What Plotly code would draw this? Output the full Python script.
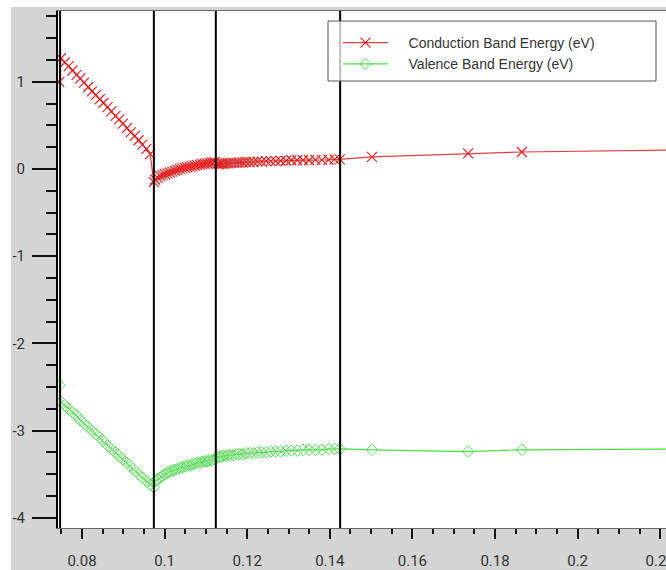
import plotly.graph_objects as go

# ---------------- data ----------------
cb_x = [0.0745, 0.0749, 0.0758, 0.0768, 0.0777, 0.0787, 0.0796, 0.0805, 0.0815, 0.0824,
        0.0834, 0.0843, 0.0852, 0.0862, 0.0871, 0.0881, 0.0890, 0.0899, 0.0909, 0.0918,
        0.0928, 0.0937, 0.0946, 0.0956, 0.0965,
        0.0974,
        0.0977, 0.0983, 0.0989, 0.0995, 0.1001, 0.1007, 0.1013, 0.1019, 0.1025, 0.1031,
        0.1037, 0.1043, 0.1049, 0.1055, 0.1061, 0.1067, 0.1073, 0.1079, 0.1085, 0.1091,
        0.1097, 0.1103, 0.1109, 0.1115, 0.1121,
        0.1127, 0.1132, 0.1137, 0.1142, 0.1148, 0.1154, 0.1160, 0.1167, 0.1174, 0.1181,
        0.1189, 0.1197, 0.1206, 0.1215, 0.1225, 0.1235, 0.1246, 0.1257, 0.1269, 0.1281,
        0.1294, 0.1307, 0.1321, 0.1335, 0.1350, 0.1365, 0.1381, 0.1397, 0.1412, 0.1424,
        0.1502, 0.1735, 0.1865, 0.2350]

cb_y = [1.00, 1.27, 1.22, 1.18, 1.13, 1.08, 1.04, 0.99, 0.94, 0.89,
        0.85, 0.80, 0.76, 0.71, 0.66, 0.61, 0.57, 0.52, 0.47, 0.42,
        0.38, 0.33, 0.28, 0.23, 0.17,
        -0.15,
        -0.12, -0.10, -0.08, -0.07, -0.06, -0.05, -0.04, -0.03, -0.02, -0.01,
        0.00, 0.01, 0.015, 0.02, 0.025, 0.03, 0.04, 0.045, 0.05, 0.055,
        0.06, 0.065, 0.07, 0.075, 0.08,
        0.06, 0.055, 0.06, 0.06, 0.065, 0.065, 0.07, 0.07, 0.07, 0.075,
        0.075, 0.08, 0.08, 0.08, 0.085, 0.085, 0.09, 0.09, 0.09, 0.095,
        0.095, 0.10, 0.10, 0.10, 0.10, 0.105, 0.105, 0.105, 0.11, 0.11,
        0.14, 0.18, 0.195, 0.225]

vb_x = cb_x

vb_y = [-2.48, -2.67, -2.71, -2.75, -2.79, -2.83, -2.88, -2.92, -2.96, -3.00,
        -3.04, -3.08, -3.12, -3.17, -3.21, -3.25, -3.29, -3.33, -3.37, -3.41,
        -3.46, -3.50, -3.54, -3.58, -3.62,
        -3.65,
        -3.58, -3.56, -3.54, -3.52, -3.50, -3.48, -3.47, -3.46, -3.45, -3.44,
        -3.43, -3.42, -3.41, -3.40, -3.40, -3.39, -3.38, -3.37, -3.37, -3.36,
        -3.35, -3.35, -3.34, -3.34, -3.33,
        -3.31, -3.30, -3.30, -3.29, -3.29, -3.28, -3.28, -3.28, -3.27, -3.27,
        -3.27, -3.26, -3.26, -3.26, -3.25, -3.25, -3.25, -3.24, -3.24, -3.24,
        -3.23, -3.23, -3.23, -3.22, -3.22, -3.22, -3.22, -3.21, -3.21, -3.21,
        -3.22, -3.24, -3.22, -3.21]

series_names = ["Conduction Band Energy (eV)", "Valence Band Energy (eV)"]

boundary_x = [0.0747, 0.0974, 0.1124, 0.1425]

x_tickvals = [0.08, 0.10, 0.12, 0.14, 0.16, 0.18, 0.20, 0.22]
x_ticktext = ["0.08", "0.1", "0.12", "0.14", "0.16", "0.18", "0.2", "0.22"]
y_tickvals = [-4, -3, -2, -1, 0, 1]
y_ticktext = ["-4", "-3", "-2", "-1", "0", "1"]

# ---------------- figure ----------------
W, H = 666, 570
ML, MR, MT, MB = 58, 0, 11, 42
PW, PH = W - ML - MR, H - MT - MB


def px_x(p):
    return (p - ML) / PW


def px_y(p):
    return (H - MB - p) / PH


fig = go.Figure()

pad = "\u00a0" * 4  # visual gap between legend sample and label

fig.add_trace(go.Scatter(
    x=cb_x, y=cb_y, name=pad + series_names[0], mode="lines+markers",
    line=dict(color="#e63c3c", width=1.2),
    marker=dict(symbol="x-thin-open", size=10, color="#e52222",
                line=dict(width=1.2, color="#e52222")),
))
fig.add_trace(go.Scatter(
    x=vb_x, y=vb_y, name=pad + series_names[1], mode="lines+markers",
    line=dict(color="#44e044", width=1.2),
    marker=dict(symbol="diamond-open", size=9, color="#55e055",
                line=dict(width=1)),
))

shapes = []
# white strips at the top/left of the grey frame (kept inside the figure)
shapes.append(dict(type="rect", xref="paper", yref="paper",
                   x0=px_x(0), x1=px_x(11), y0=px_y(H), y1=px_y(0),
                   fillcolor="white", line=dict(width=0), layer="below"))
shapes.append(dict(type="rect", xref="paper", yref="paper",
                   x0=px_x(0), x1=px_x(W), y0=px_y(7), y1=px_y(0),
                   fillcolor="white", line=dict(width=0), layer="below"))
for bx in boundary_x:
    shapes.append(dict(type="line", xref="x", yref="paper", x0=bx, x1=bx, y0=0, y1=1,
                       line=dict(color="black", width=2), layer="above"))
# legend box
shapes.append(dict(type="rect", xref="paper", yref="paper",
                   x0=px_x(328), x1=px_x(656), y0=px_y(81), y1=px_y(21),
                   fillcolor="rgba(255,255,255,0.75)",
                   line=dict(color="#555555", width=1), layer="above"))

tickfont = dict(family="Roboto, Arial, sans-serif", size=15, color="#333333")

fig.update_layout(
    template="none",
    width=W, height=H,
    margin=dict(l=ML, r=MR, t=MT, b=MB, autoexpand=False),
    paper_bgcolor="#d4d4d4",
    plot_bgcolor="white",
    shapes=shapes,
    showlegend=True,
    legend=dict(x=px_x(338), y=px_y(27), xanchor="left", yanchor="top",
                bgcolor="rgba(0,0,0,0)", borderwidth=0, itemwidth=45,
                font=dict(family="Arial, Liberation Sans, sans-serif", size=14, color="#333333"),
                tracegroupgap=0),
    xaxis=dict(range=[0.07419, 0.2214], autorange=False, automargin=False,
               tickmode="array", tickvals=x_tickvals, ticktext=x_ticktext,
               ticklabeloverflow="allow",
               ticks="outside", ticklen=10, tickwidth=2, tickcolor="#111111",
               ticklabelstandoff=9,
               minor=dict(dtick=0.005, tick0=0, ticks="outside", ticklen=5,
                          tickwidth=1.5, tickcolor="#111111", showgrid=False),
               showline=True, linecolor="#666666", linewidth=1, mirror=True,
               showgrid=False, zeroline=False, tickfont=tickfont),
    yaxis=dict(range=[-4.117, 1.812], autorange=False, automargin=False,
               tickmode="array", tickvals=y_tickvals, ticktext=y_ticktext,
               ticks="outside", ticklen=24, tickwidth=2, tickcolor="#111111",
               ticklabelstandoff=4,
               minor=dict(dtick=0.25, tick0=0, ticks="outside", ticklen=10,
                          tickwidth=2, tickcolor="#111111", showgrid=False),
               showline=True, linecolor="black", linewidth=2,
               showgrid=False, zeroline=False, tickfont=tickfont),
)

fig.write_html(
    "out.html",
    config={"displayModeBar": False},
    post_script=("document.body.style.margin='0';"
                 "document.body.style.overflow='hidden';"
                 "document.documentElement.style.overflow='hidden';"),
)
